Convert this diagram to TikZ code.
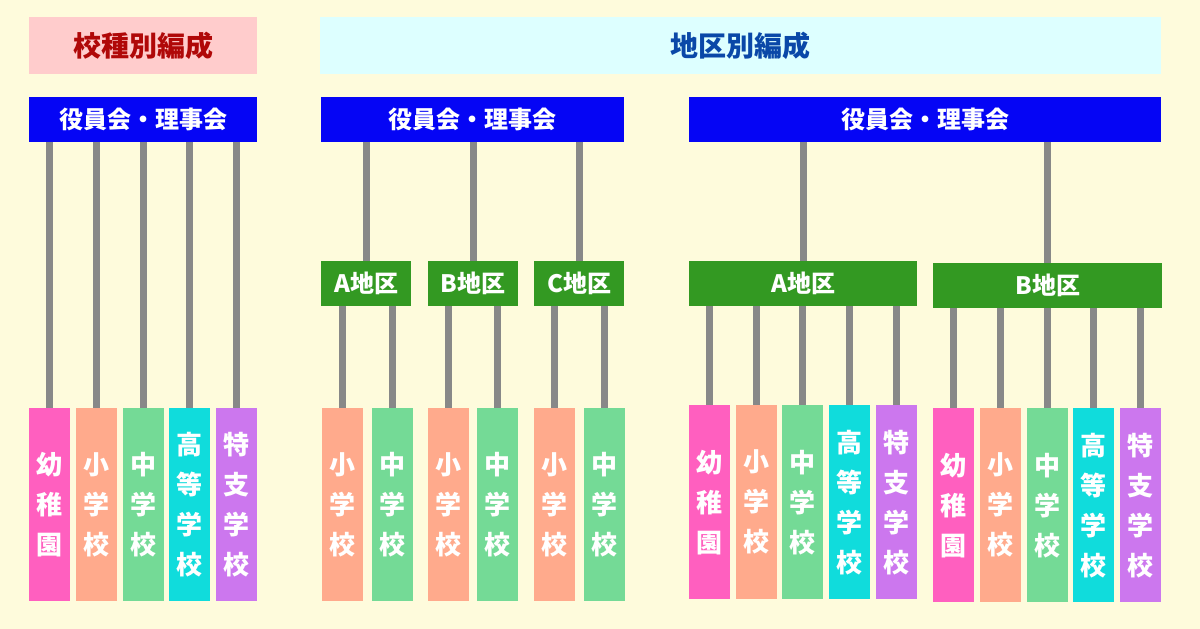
\documentclass[tikz,border=0pt]{standalone}
\usepackage{fontspec}
\setmainfont{Noto Sans CJK JP}
\definecolor{paper}{HTML}{FEFBDC}
\definecolor{pinkbg}{HTML}{FFCCCC}
\definecolor{redtxt}{HTML}{B00808}
\definecolor{cyanbg}{HTML}{DDFFFF}
\definecolor{bluetxt}{HTML}{0A48A8}
\definecolor{boardblue}{HTML}{0505F5}
\definecolor{areagreen}{HTML}{339922}
\definecolor{linegray}{HTML}{888888}
\definecolor{kinder}{HTML}{FF5FBF}
\definecolor{elem}{HTML}{FFAA8C}
\definecolor{junior}{HTML}{74DA96}
\definecolor{high}{HTML}{10DCDC}
\definecolor{special}{HTML}{CC77EE}
\tikzset{
  head/.style={anchor=north west,minimum height=57pt,inner sep=0pt,font=\fontsize{28}{32}\selectfont\bfseries},
  board/.style={anchor=north west,fill=boardblue,text=white,minimum height=45pt,inner sep=0pt,font=\fontsize{24}{28}\selectfont\bfseries},
  area/.style={anchor=north west,fill=areagreen,text=white,minimum height=45pt,inner sep=0pt,font=\fontsize{24}{28}\selectfont\bfseries},
  school/.style={anchor=north west,fill=#1,text=white,minimum width=41pt,minimum height=193pt,inner sep=0pt,align=center,font=\fontsize{26}{40}\selectfont\bfseries},
  link/.style={draw=linegray,line width=7pt}
}
\begin{document}
\begin{tikzpicture}[x=1pt,y=-1pt]
    \fill[paper] (0,0) rectangle (1200,629);
    \useasboundingbox (0,0) rectangle (1200,629);
    % titles
    \node[head,fill=pinkbg,text=redtxt,minimum width=228pt] (kind) at (29,17) {校種別編成};
    \node[head,fill=cyanbg,text=bluetxt,minimum width=841pt] (region) at (320,17) {地区別編成};
    % boards
    \node[board,minimum width=228pt] (b1) at (29,97) {役員会・理事会};
    \node[board,minimum width=303pt] (b2) at (321,97) {役員会・理事会};
    \node[board,minimum width=472pt] (b3) at (689,97) {役員会・理事会};
    % left: by school type
    \node[school=kinder] (l1) at (29,408) {幼\\稚\\園};
    \node[school=elem] (l2) at (76,408) {小\\学\\校};
    \node[school=junior] (l3) at (123,408) {中\\学\\校};
    \node[school=high] (l4) at (169,408) {高\\等\\学\\校};
    \node[school=special] (l5) at (216,408) {特\\支\\学\\校};
    \foreach \c in {l1,l2,l3,l4,l5}
        \draw[link] (\c.north |- b1.south) -- (\c.north);
    % middle: three areas
    \node[area,minimum width=90pt] (ma) at (321,261) {A地区};
    \node[area,minimum width=90pt] (mb) at (428,261) {B地区};
    \node[area,minimum width=90pt] (mc) at (534,261) {C地区};
    \node[school=elem] (m1) at (322,408) {小\\学\\校};
    \node[school=junior] (m2) at (372,408) {中\\学\\校};
    \node[school=elem] (m3) at (428,408) {小\\学\\校};
    \node[school=junior] (m4) at (477,408) {中\\学\\校};
    \node[school=elem] (m5) at (534,408) {小\\学\\校};
    \node[school=junior] (m6) at (584,408) {中\\学\\校};
    \foreach \a in {ma,mb,mc}
        \draw[link] (\a.north |- b2.south) -- (\a.north);
    \draw[link] (m1.north |- ma.south) -- (m1.north);
    \draw[link] (m2.north |- ma.south) -- (m2.north);
    \draw[link] (m3.north |- mb.south) -- (m3.north);
    \draw[link] (m4.north |- mb.south) -- (m4.north);
    \draw[link] (m5.north |- mc.south) -- (m5.north);
    \draw[link] (m6.north |- mc.south) -- (m6.north);
    % right: two areas
    \node[area,minimum width=228pt] (ra) at (689,261) {A地区};
    \node[area,minimum width=229pt] (rb) at (933,263) {B地区};
    \node[school=kinder,minimum height=194pt] (ra1) at (689,405) {幼\\稚\\園};
    \node[school=elem,minimum height=194pt] (ra2) at (736,405) {小\\学\\校};
    \node[school=junior,minimum height=194pt] (ra3) at (782,405) {中\\学\\校};
    \node[school=high,minimum height=194pt] (ra4) at (829,405) {高\\等\\学\\校};
    \node[school=special,minimum height=194pt] (ra5) at (876,405) {特\\支\\学\\校};
    \node[school=kinder,minimum height=194pt] (rb1) at (933,408) {幼\\稚\\園};
    \node[school=elem,minimum height=194pt] (rb2) at (980,408) {小\\学\\校};
    \node[school=junior,minimum height=194pt] (rb3) at (1027,408) {中\\学\\校};
    \node[school=high,minimum height=194pt] (rb4) at (1073,408) {高\\等\\学\\校};
    \node[school=special,minimum height=194pt] (rb5) at (1120,408) {特\\支\\学\\校};
    \foreach \a in {ra,rb}
        \draw[link] (\a.north |- b3.south) -- (\a.north);
    \foreach \c in {ra1,ra2,ra3,ra4,ra5}
        \draw[link] (\c.north |- ra.south) -- (\c.north);
    \foreach \c in {rb1,rb2,rb3,rb4,rb5}
        \draw[link] (\c.north |- rb.south) -- (\c.north);
\end{tikzpicture}
\end{document}
